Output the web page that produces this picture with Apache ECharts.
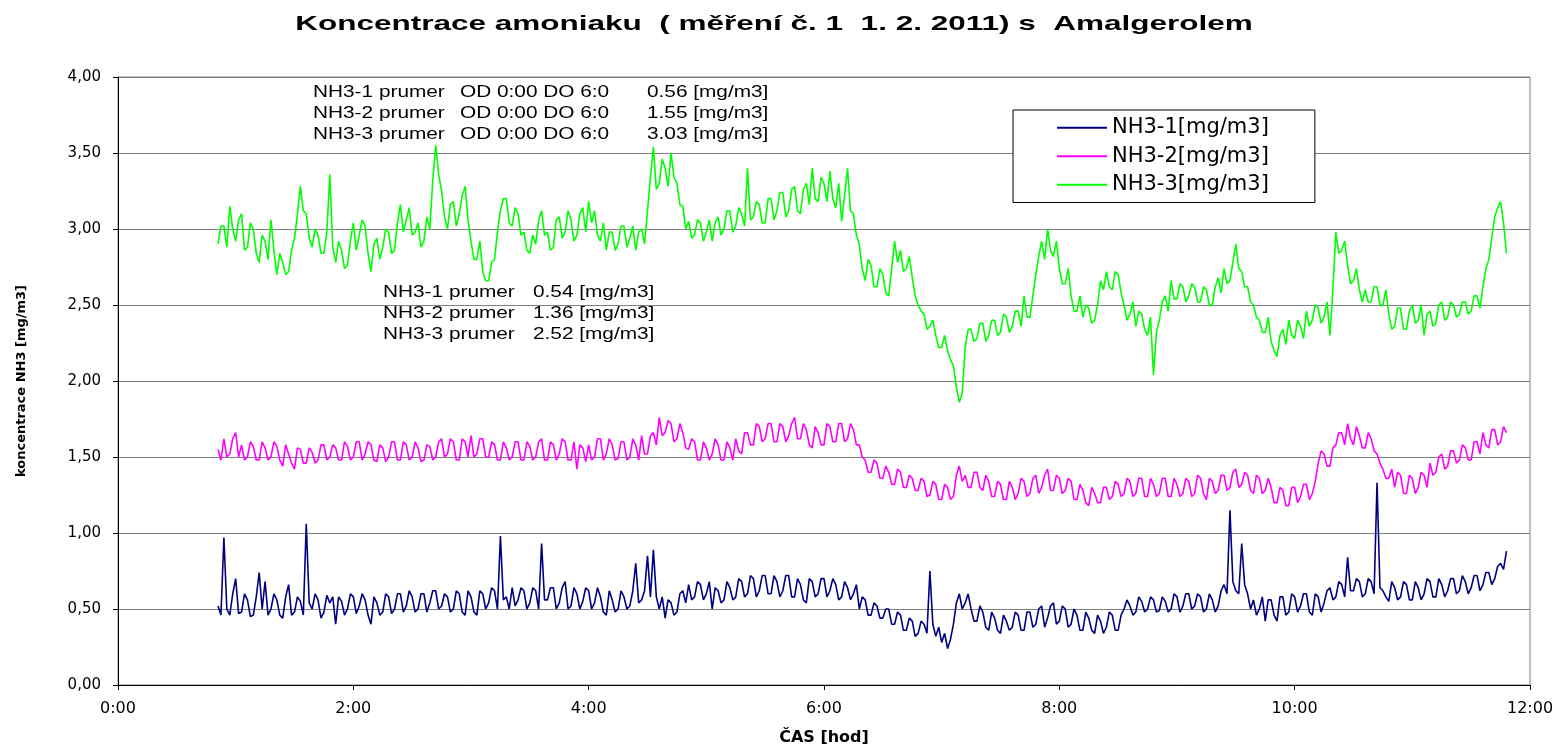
<!DOCTYPE html>
<html>
<head>
<meta charset="utf-8">
<script src="https://cdn.jsdelivr.net/npm/echarts@6/dist/echarts.min.js"></script>
<style>
  html, body { margin: 0; padding: 0; background: #fff; }
  #graf { width: 1566px; height: 752px; }
</style>
</head>
<body>
<div id="graf"></div>
<script>
// mereni c. 1, 1. 2. 2011 - odecet kazde 3 minuty (0.05 h) od 0:51,
// pole *_mezi = odecty mezi nimi (o 1.5 minuty pozdeji)
var casStart = 0.85;
var casKrok = 0.05;

var nazvy = ['NH3-1[mg/m3]', 'NH3-2[mg/m3]', 'NH3-3[mg/m3]'];
var barvy = ['#000080', '#FF00FF', '#00FF00'];

// NH3-1
var nh3_1 = [
  0.52,0.97,0.46,0.70,0.48,0.56,0.46,0.74,0.68,0.50,0.56,0.44,0.66,0.48,0.55,1.06,0.50,0.56,0.48,0.54,
  0.40,0.55,0.50,0.58,0.52,0.56,0.40,0.54,0.48,0.58,0.50,0.60,0.52,0.58,0.50,0.60,0.54,0.62,0.52,0.58,
  0.50,0.60,0.46,0.58,0.46,0.60,0.54,0.62,0.98,0.58,0.64,0.56,0.62,0.54,0.62,0.93,0.56,0.64,0.54,0.68,
  0.52,0.60,0.55,0.62,0.54,0.58,0.46,0.56,0.50,0.58,0.52,0.80,0.56,0.85,0.89,0.50,0.44,0.54,0.48,0.62,
  0.66,0.58,0.66,0.60,0.50,0.62,0.56,0.64,0.58,0.68,0.60,0.70,0.62,0.72,0.60,0.68,0.62,0.72,0.58,0.66,
  0.54,0.68,0.60,0.70,0.62,0.66,0.58,0.64,0.60,0.50,0.56,0.46,0.52,0.44,0.50,0.40,0.46,0.36,0.42,0.34,
  0.40,0.75,0.32,0.28,0.24,0.40,0.60,0.54,0.50,0.42,0.48,0.36,0.44,0.34,0.42,0.38,0.46,0.36,0.48,0.40,
  0.52,0.44,0.54,0.42,0.50,0.40,0.46,0.36,0.44,0.34,0.42,0.38,0.46,0.36,0.50,0.52,0.48,0.55,0.50,0.56,
  0.49,0.55,0.50,0.58,0.52,0.60,0.52,0.58,0.50,0.56,0.52,0.66,1.15,0.62,0.93,0.60,0.56,0.50,0.42,0.56,
  0.42,0.58,0.48,0.58,0.52,0.60,0.46,0.58,0.54,0.64,0.58,0.66,0.84,0.62,0.68,0.60,0.68,1.33,0.62,0.55,
  0.64,0.58,0.66,0.56,0.64,0.60,0.68,0.58,0.66,0.62,0.70,0.62,0.68,0.64,0.72,0.66,0.74,0.70,0.80,0.88
];
var nh3_1_mezi = [
  0.46,0.50,0.60,0.47,0.60,0.45,0.58,0.50,0.46,0.60,0.46,0.58,0.46,0.58,0.46,0.54,0.60,0.44,0.59,0.58,
  0.58,0.46,0.60,0.47,0.60,0.46,0.58,0.46,0.60,0.47,0.60,0.48,0.62,0.48,0.60,0.48,0.62,0.50,0.60,0.48,
  0.62,0.48,0.62,0.48,0.62,0.50,0.64,0.50,0.56,0.50,0.52,0.64,0.50,0.64,0.50,0.56,0.64,0.50,0.64,0.50,
  0.64,0.50,0.64,0.50,0.64,0.48,0.62,0.48,0.62,0.50,0.62,0.54,0.62,0.58,0.58,0.58,0.56,0.46,0.60,0.54,
  0.56,0.68,0.56,0.68,0.64,0.54,0.68,0.56,0.70,0.58,0.72,0.58,0.72,0.60,0.72,0.58,0.72,0.58,0.70,0.56,
  0.70,0.58,0.70,0.58,0.70,0.56,0.68,0.56,0.66,0.58,0.46,0.54,0.44,0.50,0.40,0.48,0.36,0.44,0.32,0.42,
  0.34,0.40,0.38,0.34,0.30,0.54,0.50,0.60,0.42,0.52,0.38,0.48,0.36,0.46,0.36,0.48,0.36,0.48,0.38,0.50,
  0.38,0.52,0.40,0.52,0.38,0.50,0.36,0.48,0.36,0.46,0.34,0.48,0.36,0.46,0.56,0.46,0.58,0.48,0.58,0.48,
  0.58,0.48,0.60,0.48,0.60,0.50,0.60,0.48,0.60,0.48,0.62,0.60,0.68,0.60,0.66,0.50,0.46,0.58,0.56,0.46,
  0.58,0.46,0.60,0.48,0.60,0.48,0.60,0.48,0.62,0.56,0.68,0.58,0.62,0.70,0.58,0.70,0.60,0.64,0.58,0.68,
  0.56,0.68,0.56,0.68,0.56,0.70,0.58,0.70,0.58,0.70,0.60,0.72,0.60,0.72,0.62,0.74,0.66,0.78,0.76
];

// NH3-2
var nh3_2 = [
  1.55,1.62,1.52,1.66,1.58,1.50,1.57,1.48,1.56,1.50,1.57,1.44,1.52,1.42,1.55,1.46,1.53,1.48,1.58,1.50,
  1.56,1.48,1.57,1.50,1.60,1.52,1.58,1.47,1.56,1.50,1.60,1.48,1.58,1.50,1.56,1.48,1.57,1.50,1.62,1.52,
  1.60,1.48,1.60,1.64,1.52,1.62,1.50,1.58,1.48,1.56,1.50,1.60,1.48,1.57,1.50,1.62,1.48,1.58,1.52,1.60,
  1.48,1.42,1.56,1.58,1.50,1.62,1.52,1.58,1.49,1.60,1.50,1.58,1.64,1.52,1.66,1.76,1.66,1.72,1.62,1.66,
  1.55,1.60,1.48,1.56,1.52,1.58,1.48,1.56,1.62,1.52,1.66,1.58,1.70,1.62,1.72,1.60,1.70,1.64,1.76,1.62,
  1.68,1.56,1.66,1.58,1.70,1.60,1.72,1.62,1.68,1.58,1.48,1.40,1.46,1.36,1.40,1.32,1.40,1.30,1.36,1.28,
  1.34,1.25,1.32,1.22,1.30,1.24,1.44,1.38,1.30,1.40,1.28,1.34,1.24,1.32,1.22,1.30,1.26,1.34,1.26,1.38,
  1.30,1.42,1.28,1.36,1.28,1.34,1.22,1.28,1.18,1.26,1.20,1.30,1.24,1.32,1.26,1.34,1.26,1.36,1.24,1.32,
  1.26,1.36,1.24,1.32,1.26,1.34,1.26,1.36,1.22,1.34,1.28,1.38,1.30,1.42,1.32,1.38,1.26,1.36,1.28,1.30,
  1.20,1.28,1.18,1.30,1.24,1.32,1.26,1.46,1.52,1.44,1.58,1.66,1.72,1.58,1.64,1.56,1.62,1.52,1.42,1.36,
  1.30,1.38,1.26,1.36,1.30,1.38,1.46,1.40,1.52,1.44,1.54,1.48,1.56,1.48,1.60,1.66,1.56,1.68,1.60,1.66
];
var nh3_2_mezi = [
  1.48,1.50,1.62,1.50,1.48,1.60,1.48,1.60,1.48,1.60,1.48,1.58,1.46,1.56,1.46,1.56,1.46,1.58,1.48,1.58,
  1.48,1.60,1.48,1.60,1.48,1.60,1.48,1.58,1.47,1.60,1.48,1.60,1.48,1.60,1.47,1.58,1.48,1.60,1.50,1.62,
  1.48,1.62,1.50,1.50,1.62,1.50,1.60,1.48,1.60,1.48,1.60,1.48,1.60,1.48,1.60,1.48,1.60,1.48,1.62,1.48,
  1.60,1.58,1.47,1.48,1.62,1.48,1.62,1.48,1.60,1.48,1.62,1.48,1.52,1.64,1.58,1.64,1.74,1.60,1.72,1.56,
  1.62,1.48,1.60,1.48,1.62,1.48,1.60,1.48,1.54,1.66,1.58,1.72,1.60,1.72,1.60,1.72,1.60,1.72,1.62,1.72,
  1.58,1.70,1.58,1.72,1.60,1.72,1.60,1.72,1.58,1.50,1.40,1.48,1.36,1.44,1.32,1.42,1.30,1.38,1.28,1.36,
  1.24,1.34,1.22,1.32,1.22,1.38,1.34,1.30,1.40,1.30,1.38,1.24,1.34,1.22,1.34,1.22,1.36,1.24,1.36,1.26,
  1.38,1.28,1.38,1.26,1.36,1.22,1.32,1.20,1.30,1.20,1.30,1.22,1.34,1.24,1.36,1.24,1.36,1.24,1.36,1.24,
  1.36,1.24,1.36,1.24,1.36,1.24,1.38,1.26,1.36,1.26,1.38,1.28,1.40,1.30,1.40,1.28,1.38,1.26,1.36,1.20,
  1.30,1.18,1.30,1.20,1.32,1.22,1.34,1.54,1.44,1.56,1.66,1.58,1.62,1.70,1.56,1.66,1.54,1.46,1.36,1.42,
  1.40,1.26,1.38,1.26,1.40,1.30,1.38,1.50,1.42,1.54,1.46,1.58,1.48,1.60,1.52,1.58,1.68,1.58,1.70
];

// NH3-3
var nh3_3 = [
  2.90,3.02,3.15,2.92,3.10,2.88,3.00,2.78,2.92,3.06,2.70,2.78,2.72,2.94,3.28,3.10,2.88,2.96,2.84,3.36,
  2.78,2.86,2.76,3.04,2.96,3.02,2.72,2.94,2.88,2.98,2.86,3.16,3.06,2.96,3.04,2.92,3.00,3.55,3.25,3.00,
  3.18,3.10,3.28,2.92,2.80,2.72,2.66,2.80,3.12,3.20,3.02,3.10,2.98,2.84,2.90,3.12,2.98,2.88,3.08,2.98,
  3.06,2.96,3.14,3.18,3.12,2.92,2.86,2.98,2.90,3.02,2.94,2.86,3.00,3.12,3.54,3.30,3.40,3.50,3.30,3.15,
  3.05,2.96,3.04,2.98,2.92,3.08,3.00,3.12,3.02,3.10,3.40,3.08,3.16,3.04,3.20,3.12,3.24,3.12,3.28,3.10,
  3.30,3.40,3.18,3.30,3.38,3.14,3.05,3.40,3.10,2.90,2.66,2.76,2.62,2.70,2.56,2.92,2.86,2.74,2.68,2.50,
  2.44,2.36,2.30,2.22,2.20,2.10,1.86,2.22,2.34,2.28,2.38,2.30,2.40,2.32,2.42,2.36,2.46,2.56,2.42,2.70,
  2.92,3.00,2.82,2.74,2.64,2.56,2.46,2.42,2.48,2.40,2.66,2.72,2.60,2.70,2.50,2.44,2.36,2.44,2.30,2.04,
  2.40,2.56,2.66,2.54,2.62,2.56,2.62,2.52,2.60,2.50,2.68,2.74,2.66,2.90,2.72,2.62,2.50,2.40,2.32,2.26,
  2.16,2.34,2.40,2.28,2.36,2.46,2.40,2.48,2.42,2.30,2.98,2.86,2.76,2.66,2.60,2.60,2.52,2.62,2.50,2.44,
  2.36,2.48,2.34,2.50,2.40,2.30,2.46,2.38,2.52,2.42,2.50,2.44,2.52,2.46,2.56,2.62,2.80,3.08,3.18,2.84
];
var nh3_3_mezi = [
  3.02,2.88,3.00,3.06,2.86,3.04,2.84,2.96,2.80,2.86,2.84,2.70,2.86,3.10,3.12,2.94,3.00,2.84,2.98,2.88,
  2.92,2.74,2.92,2.86,3.06,2.84,2.90,2.80,3.00,2.84,3.04,2.98,3.14,2.98,2.88,3.08,3.32,3.36,3.08,3.16,
  3.02,3.22,3.06,2.80,2.92,2.66,2.78,2.98,3.20,3.04,3.14,2.96,2.86,2.96,3.06,2.96,2.86,3.06,2.94,3.12,
  2.92,3.10,2.98,3.04,2.96,3.04,2.98,2.86,3.02,2.88,3.02,2.98,2.90,3.34,3.26,3.46,3.28,3.34,3.16,3.00,
  2.94,3.06,2.92,3.06,3.04,2.96,3.12,2.98,3.14,3.02,3.06,3.18,3.04,3.20,3.06,3.24,3.08,3.26,3.12,3.26,
  3.16,3.20,3.34,3.18,3.20,3.30,3.22,3.12,2.96,2.74,2.80,2.62,2.74,2.58,2.74,2.78,2.72,2.82,2.56,2.46,
  2.34,2.40,2.22,2.30,2.14,1.96,1.92,2.34,2.26,2.38,2.26,2.40,2.30,2.44,2.32,2.46,2.36,2.42,2.56,2.82,
  2.80,2.86,2.92,2.64,2.74,2.46,2.56,2.50,2.38,2.50,2.60,2.62,2.72,2.58,2.40,2.52,2.46,2.34,2.42,2.32,
  2.52,2.46,2.54,2.64,2.52,2.64,2.52,2.62,2.50,2.62,2.58,2.64,2.78,2.74,2.62,2.52,2.42,2.32,2.42,2.20,
  2.30,2.24,2.30,2.40,2.28,2.36,2.50,2.38,2.52,2.60,2.84,2.92,2.64,2.74,2.52,2.52,2.62,2.50,2.60,2.34,
  2.48,2.34,2.46,2.38,2.50,2.44,2.36,2.50,2.40,2.52,2.42,2.52,2.44,2.56,2.48,2.74,2.94,3.14,3.04
];

// prumerne hodnoty
var prumer0do6 = [0.56, 1.55, 3.03];
var prumerCelkem = [0.54, 1.36, 2.52];

// spoji odecty a mezi-odecty do jedne rady [cas, hodnota]
function body(hodnoty, mezi) {
  var out = [];
  for (var i = 0; i < hodnoty.length; i++) {
    var t = casStart + i * casKrok;
    out.push([t, hodnoty[i]]);
    if (i < mezi.length) out.push([t + casKrok / 2, mezi[i]]);
  }
  return out;
}

var font = '"Liberation Sans", Arial, sans-serif';
function text(x, y, s) {
  return { type: 'text', x: x, y: y, scaleX: 1.3,
    style: { text: s, font: '16px ' + font, fill: '#000', textVerticalAlign: 'middle' } };
}
var popisky = [];
for (var i = 0; i < 3; i++) {
  popisky.push(text(313, 93 + i * 21, 'NH3-' + (i + 1) + ' prumer'));
  popisky.push(text(460, 93 + i * 21, 'OD 0:00 DO 6:0'));
  popisky.push(text(647, 93 + i * 21, prumer0do6[i].toFixed(2) + ' [mg/m3]'));
  popisky.push(text(383, 293 + i * 21, 'NH3-' + (i + 1) + ' prumer'));
  popisky.push(text(533, 293 + i * 21, prumerCelkem[i].toFixed(2) + ' [mg/m3]'));
}
popisky.push({ type: 'text', x: 774, y: 24, scaleX: 1.5,
  style: { text: 'Koncentrace amoniaku  ( měření č. 1  1. 2. 2011) s  Amalgerolem',
    font: 'bold 21px ' + font, fill: '#000', textAlign: 'center', textVerticalAlign: 'middle' } });

var chart = echarts.init(document.getElementById('graf'));
var option = {
  animation: false,
  backgroundColor: '#fff',
  grid: { left: 118, right: 36, top: 77, bottom: 67, show: true, borderColor: '#808080', borderWidth: 1 },
  legend: {
    data: nazvy, orient: 'vertical', left: 1013, top: 110,
    padding: [7, 46, 7, 44], itemWidth: 50, itemHeight: 2, itemGap: 7, icon: 'rect',
    backgroundColor: '#fff', borderColor: '#000', borderWidth: 1, borderRadius: 0,
    textStyle: { fontFamily: 'DejaVu Sans', fontSize: 21, color: '#000', lineHeight: 21.5 }
  },
  xAxis: {
    type: 'value', min: 0, max: 12, interval: 2,
    name: 'ČAS [hod]', nameLocation: 'middle', nameGap: 45,
    nameTextStyle: { fontFamily: 'DejaVu Sans', fontWeight: 'bold', fontSize: 16, color: '#000' },
    axisLine: { lineStyle: { color: '#000', width: 1 } },
    axisTick: { show: true, inside: false, length: 5, lineStyle: { color: '#000' } },
    axisLabel: { margin: 16, fontFamily: 'DejaVu Sans', fontSize: 16, color: '#000',
      formatter: function (v) { return Math.round(v) + ':00'; } },
    splitLine: { show: false }
  },
  yAxis: {
    type: 'value', min: 0, max: 4, interval: 0.5,
    name: 'koncentrace NH3 [mg/m3]', nameLocation: 'middle', nameGap: 90,
    nameTextStyle: { fontFamily: 'DejaVu Sans', fontWeight: 'bold', fontSize: 13, color: '#000' },
    axisLine: { show: true, lineStyle: { color: '#000', width: 1 } },
    axisTick: { show: true, inside: false, length: 5, lineStyle: { color: '#000' } },
    axisLabel: { margin: 17, fontFamily: 'DejaVu Sans', fontSize: 15, color: '#000',
      formatter: function (v) { return v.toFixed(2).replace('.', ','); } },
    splitLine: { show: true, lineStyle: { color: '#808080', width: 1 } }
  },
  series: [
    { name: nazvy[0], type: 'line', data: body(nh3_1, nh3_1_mezi), color: barvy[0], symbol: 'none', z: 4,
      lineStyle: { width: 1.6, color: barvy[0] } },
    { name: nazvy[1], type: 'line', data: body(nh3_2, nh3_2_mezi), color: barvy[1], symbol: 'none', z: 3,
      lineStyle: { width: 1.6, color: barvy[1] } },
    { name: nazvy[2], type: 'line', data: body(nh3_3, nh3_3_mezi), color: barvy[2], symbol: 'none', z: 2,
      lineStyle: { width: 1.6, color: barvy[2] } }
  ],
  graphic: popisky
};
chart.setOption(option);
</script>
</body>
</html>
